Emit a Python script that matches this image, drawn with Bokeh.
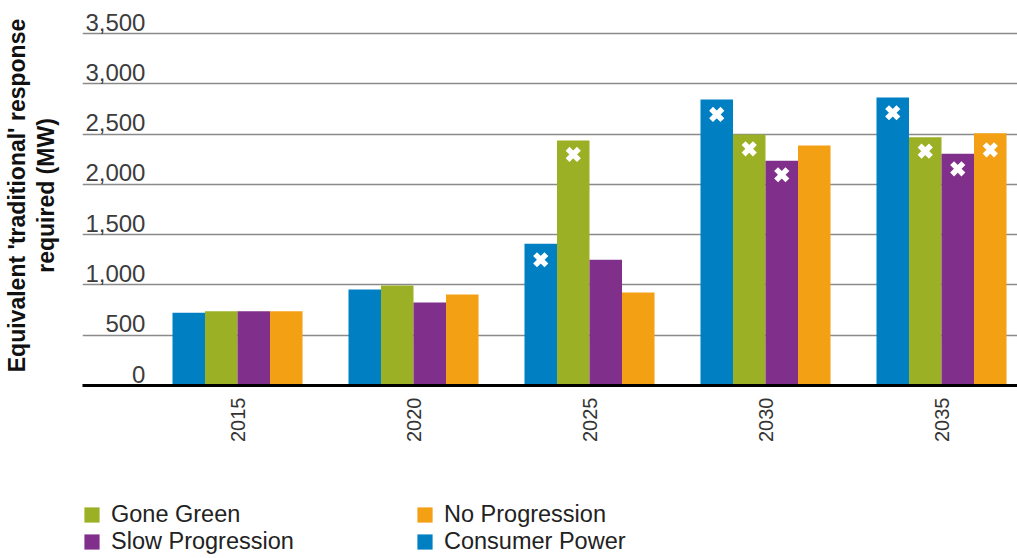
import math
from bokeh.plotting import figure
from bokeh.layouts import column
from bokeh.models import ColumnDataSource, Range1d, FixedTicker, Legend, LegendItem
from bokeh.transform import dodge
from bokeh.core.properties import value
from bokeh.embed import file_html
from bokeh.resources import INLINE

nan = float("nan")

# ---- data ----
years = ["2015", "2020", "2025", "2030", "2035"]
consumer_power = [725, 955, 1410, 2846, 2866]
gone_green = [740, 995, 2438, 2498, 2471]
slow_progression = [740, 826, 1251, 2236, 2306]
no_progression = [740, 906, 925, 2388, 2511]

# white cross markers
consumer_power_x = [nan, nan, 1251, 2697, 2714]
gone_green_x = [nan, nan, 2299, 2355, 2332]
slow_progression_x = [nan, nan, nan, 2097, 2156]
no_progression_x = [nan, nan, nan, nan, 2345]

y_ticks = [0, 500, 1000, 1500, 2000, 2500, 3000, 3500]
y_tick_labels = ["0", "500", "1,000", "1,500", "2,000", "2,500", "3,000", "3,500"]

series_names = ["Consumer Power", "Gone Green", "Slow Progression", "No Progression"]
colors = ["#0080C3", "#9CB025", "#80308B", "#F3A015"]
legend_order = ["Gone Green", "Slow Progression", "No Progression", "Consumer Power"]

FONT = "Liberation Sans"
cols = ["cp", "gg", "sp", "nprog"]
xcols = ["cpx", "ggx", "spx", "npx"]

source = ColumnDataSource(dict(
    x=list(range(len(years))),
    cp=consumer_power, gg=gone_green, sp=slow_progression, nprog=no_progression,
    cpx=consumer_power_x, ggx=gone_green_x, spx=slow_progression_x, npx=no_progression_x,
))

p = figure(width=1017, height=455, output_backend="svg", toolbar_location=None,
           x_range=Range1d(-0.8807, 4.4318), y_range=Range1d(0, 3781),
           min_border_left=82, min_border_right=0, min_border_top=5, min_border_bottom=70)
p.outline_line_color = None
p.background_fill_color = "white"
p.border_fill_color = "white"

bar_w = 0.1847
offsets = [-1.5 * bar_w, -0.5 * bar_w, 0.5 * bar_w, 1.5 * bar_w]

for name, col, xcol, off, c in zip(series_names, cols, xcols, offsets, colors):
    p.vbar(x=dodge("x", off, range=p.x_range), top=col, bottom=0, width=bar_w,
           source=source, fill_color=c, line_color=None)
    p.scatter(x=dodge("x", off, range=p.x_range), y=xcol, source=source, marker="x",
              size=16, line_color="white", line_width=5.5)

# grid
p.xgrid.visible = False
p.ygrid.ticker = FixedTicker(ticks=y_ticks)
p.ygrid.grid_line_color = "#8a8a8a"
p.ygrid.grid_line_width = 1.6

# y tick labels drawn above grid lines
label_x = -0.523
p.text(x=[label_x] * len(y_ticks), y=y_ticks, text=y_tick_labels,
       text_font=value(FONT), text_font_size="24px", text_color="#3c3c3c",
       text_align="right", text_baseline="bottom", y_offset=-3)

# x axis
p.xaxis.ticker = FixedTicker(ticks=list(range(len(years))))
p.xaxis.major_label_overrides = {i: y for i, y in enumerate(years)}
p.xaxis.major_label_orientation = math.pi / 2
p.xaxis.axis_line_color = "black"
p.xaxis.axis_line_width = 3
p.xaxis.major_tick_line_color = None
p.xaxis.minor_tick_line_color = None
p.xaxis.major_label_standoff = 6
p.xaxis.major_label_text_font = FONT
p.xaxis.major_label_text_font_size = "20px"
p.xaxis.major_label_text_color = "#333333"

# y axis: only the title
p.yaxis.ticker = FixedTicker(ticks=[])
p.yaxis.axis_line_color = None
p.yaxis.major_tick_line_color = None
p.yaxis.minor_tick_line_color = None
p.yaxis.axis_label = "Equivalent 'traditional' response\nrequired (MW)"
p.yaxis.axis_label_text_font = FONT
p.yaxis.axis_label_text_font_style = "bold"
p.yaxis.axis_label_text_font_size = "23px"
p.yaxis.axis_label_text_line_height = 1.1
p.yaxis.axis_label_text_color = "#111111"
p.yaxis.axis_label_standoff = 24

# ---- legend panel (separate strip under the chart) ----
pl = figure(width=1017, height=103, output_backend="svg", toolbar_location=None,
            x_range=p.x_range, y_range=p.y_range,
            min_border_left=82, min_border_right=0, min_border_top=0, min_border_bottom=0)
pl.outline_line_color = None
pl.axis.visible = False
pl.grid.visible = False
items = []
for name in legend_order:
    i = series_names.index(name)
    # hidden copy of the series: only its legend swatch is shown
    r = pl.vbar(x="x", top=cols[i], width=bar_w, source=source,
                fill_color=colors[i], line_color=None, visible=False)
    items.append(LegendItem(label=name, renderers=[r]))
legend = Legend(items=items, orientation="vertical", nrows=2, location=(0, 3),
                padding=0, margin=0, spacing=0, glyph_width=19, glyph_height=19,
                label_standoff=10, label_width=304, label_height=20,
                label_text_font=FONT, label_text_font_size="23.5px",
                label_text_line_height=1.0, label_text_color="#222222",
                inactive_fill_alpha=0,
                border_line_color=None, background_fill_alpha=0)
pl.add_layout(legend, "center")

layout = column(p, pl, spacing=0)
open("out.html", "w").write(file_html(layout, INLINE))
